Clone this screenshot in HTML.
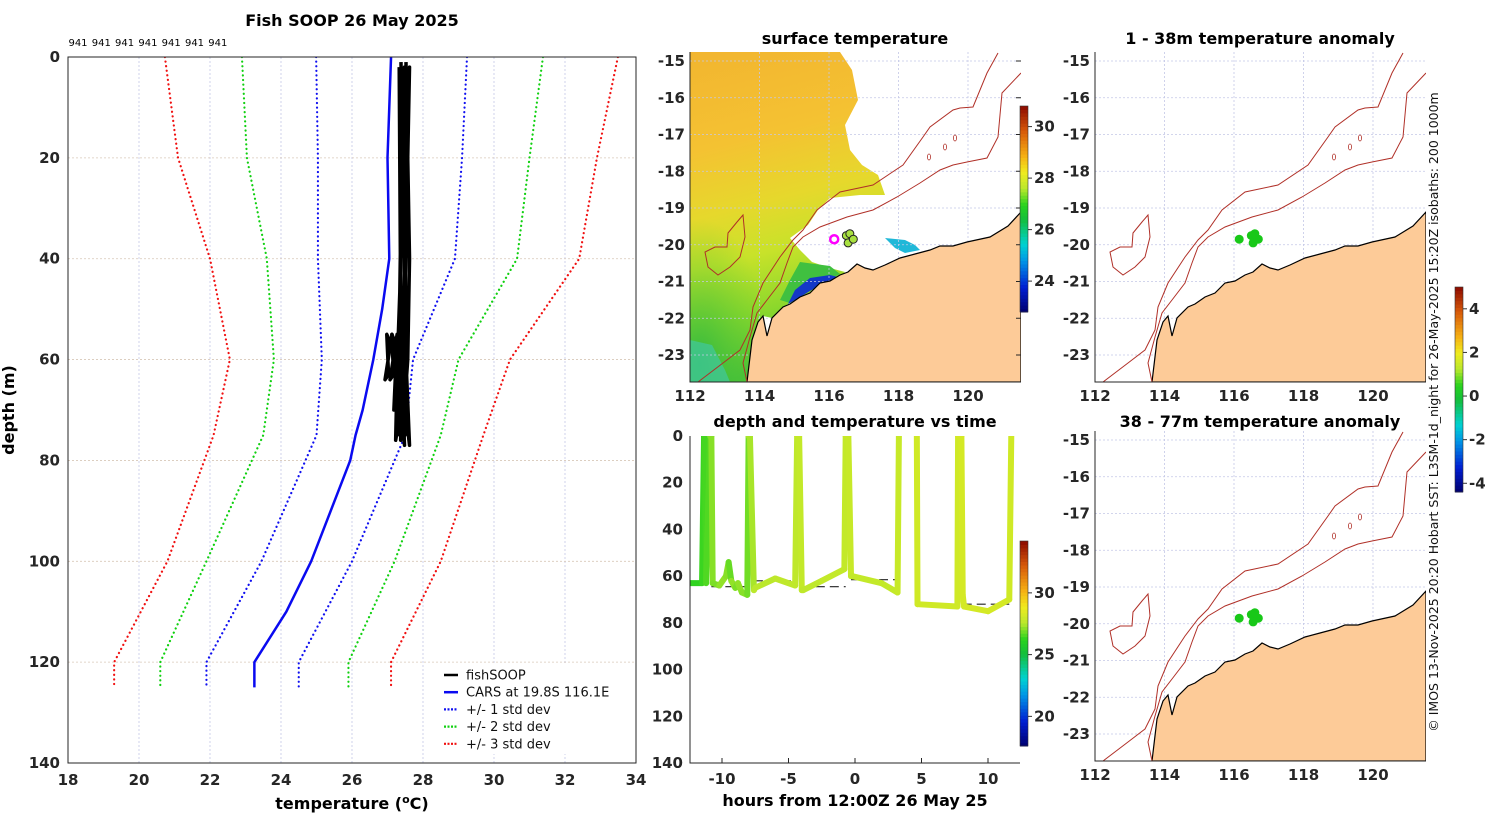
<!DOCTYPE html>
<html><head><meta charset="utf-8"><style>
html,body{margin:0;padding:0;background:#fff;}
svg{display:block;font-family:"DejaVu Sans","Liberation Sans",sans-serif;}
.tk{font-size:15px;font-weight:bold;fill:#262626;}
.ttl{font-size:16px;font-weight:bold;fill:#000;}
</style></head><body>
<svg id="s" width="1500" height="820" viewBox="0 0 1500 820" xmlns="http://www.w3.org/2000/svg">
<defs>
<clipPath id="cpL"><rect x="68" y="57" width="568" height="706"/></clipPath>
<clipPath id="cpM"><rect x="690" y="52" width="331" height="330"/></clipPath>
<clipPath id="cpT"><rect x="690" y="436" width="330" height="327"/></clipPath>
<linearGradient id="sstg" x1="0" y1="0" x2="0.15" y2="1">
<stop offset="0" stop-color="#f2b530"/><stop offset="0.3" stop-color="#f4c232"/>
<stop offset="0.5" stop-color="#e6d82c"/><stop offset="0.65" stop-color="#c8e22a"/>
<stop offset="0.82" stop-color="#8cd82c"/><stop offset="1" stop-color="#48c038"/>
</linearGradient>
<radialGradient id="greeng" cx="0.1" cy="0.9" r="0.8">
<stop offset="0" stop-color="#30b840" stop-opacity="0.9"/><stop offset="1" stop-color="#60cc30" stop-opacity="0"/>
</radialGradient>
</defs>
<rect width="1500" height="820" fill="#fff"/>
<g id="left"></g>
<g id="mapS"></g>
<g id="ts"></g>
<g id="mapA"></g>
<g id="mapB"></g>
<text class="ttl" x="352" y="26" text-anchor="middle">Fish SOOP 26 May 2025</text>
<text class="ttl" x="855" y="44" text-anchor="middle">surface temperature</text>
<text class="ttl" x="855" y="427" text-anchor="middle">depth and temperature vs time</text>
<text class="ttl" x="1260" y="44" text-anchor="middle">1 - 38m temperature anomaly</text>
<text class="ttl" x="1260" y="427" text-anchor="middle">38 - 77m temperature anomaly</text>
<text class="ttl" x="14" y="410" text-anchor="middle" transform="rotate(-90 14 410)">depth (m)</text>
<text class="ttl" x="352" y="809" text-anchor="middle">temperature (<tspan font-size="11" dy="-6">o</tspan><tspan dy="6">C)</tspan></text>
<text class="ttl" x="855" y="806" text-anchor="middle">hours from 12:00Z 26 May 25</text>
<text x="1438" y="412" font-size="12.5" fill="#111" text-anchor="middle" transform="rotate(-90 1438 412)">© IMOS 13-Nov-2025 20:20 Hobart SST: L3SM-1d_night for 26-May-2025 15:20Z isobaths: 200  1000m</text>
</svg>
<script>
// ---------- data ----------
const xTicksT=[18,20,22,24,26,28,30,32,34];
const yTicksD=[0,20,40,60,80,100,120,140];
const carsDepth=[0,20,40,50,60,70,75,80,100,110,120,125];
const carsMean=[27.1,27.0,27.05,26.85,26.6,26.3,26.1,25.95,24.85,24.15,23.25,23.25];
const bandDepth=[0,20,40,60,75,100,120,125];
const sd1Lo=[24.99,25.04,25.04,25.15,25.0,23.45,21.9,21.9];
const sd1Hi=[29.24,29.1,28.9,27.72,27.5,26.0,24.5,24.5];
const sd2Lo=[22.9,23.04,23.6,23.8,23.5,21.9,20.6,20.6];
const sd2Hi=[31.38,31.0,30.65,29.0,28.5,27.2,25.9,25.9];
const sd3Lo=[20.73,21.1,22.0,22.56,22.1,20.8,19.3,19.3];
const sd3Hi=[33.49,32.9,32.4,30.45,29.7,28.5,27.1,27.1];
const fishTemp=[27.45,27.5,27.55,27.5,27.4,27.35,27.3,27.35,27.45,27.5,27.55,27.45,27.4,27.45,27.5,27.42,27.38,27.05,27.1,27.0,27.2,27.3,27.25,27.35,27.3,27.4,27.5,27.55,27.45,27.4];
const fishDepth=[1,20,40,60,70,74,76,60,40,20,2,30,55,68,72,75,60,55,63,64,55,62,70,56,66,70,74,77,60,2];
const countLabels=["941","941","941","941","941","941","941"];
const hours=[-12.4,-11.5,-11.35,-11.3,-11.2,-10.9,-10.8,-10.7,-10.2,-9.7,-9.5,-9.3,-9.0,-8.8,-8.5,-8.1,-8.0,-7.9,-7.6,-7.5,-6.0,-4.5,-4.35,-4.2,-4.0,-3.9,-2.5,-0.8,-0.7,-0.5,-0.3,-0.2,2.0,3.2,3.3,4.65,4.7,7.7,7.75,8.0,8.1,8.2,10.0,11.6,11.75];
const tsDepth=[63,63,0,0,63,0,0,63,64,60,54,62,65,63,67,68,0,0,66,65,61,64,0,0,66,66,62,57,0,0,60,60,63,67,0,0,72,73,0,0,68,73,75,70,0];
const tsTemp=[26.3,26.4,26.3,26.5,26.6,27.0,27.1,27.0,27.2,27.1,26.8,27.2,27.0,27.2,27.1,26.9,27.4,27.4,27.6,27.6,27.7,27.7,27.8,27.8,27.7,27.7,27.8,27.8,27.9,27.9,27.8,27.8,27.8,27.9,27.9,28.1,28.1,28.1,28.2,28.2,28.2,28.2,28.2,28.1,28.1];
const hourTicks=[-10,-5,0,5,10];
const tsDepthTicks=[0,20,40,60,80,100,120,140];
const bottomH=[[-10.8,-8.0],[-7.6,-4.35],[-4.0,-0.7],[-0.3,3.3],[4.65,7.75],[8.1,11.6]];
const bottomD=[64.5,62,64.5,61.5,72,72];
const lonTicks=[112,114,116,118,120];
const latTicks=[-15,-16,-17,-18,-19,-20,-21,-22,-23];
const sstCbTicks=[24,26,28,30];
const tsCbTicks=[20,25,30];
const anomCbTicks=[-4,-2,0,2,4];
const obsLon=[116.15,116.5,116.6,116.55,116.7];
const obsLat=[-19.85,-19.75,-19.7,-19.95,-19.85];

const NS="http://www.w3.org/2000/svg";
function mk(tag,a,p){const e=document.createElementNS(NS,tag);for(const k in a)e.setAttribute(k,a[k]);p.appendChild(e);return e;}
const cmStops=[[0,[0,0,110]],[0.12,[0,30,210]],[0.25,[0,150,230]],[0.33,[0,210,210]],[0.45,[20,190,60]],[0.52,[40,210,30]],[0.6,[185,232,44]],[0.68,[240,235,30]],[0.76,[245,175,20]],[0.88,[215,90,10]],[1,[140,10,0]]];
function jet(f){f=Math.max(0,Math.min(1,f));for(let i=1;i<cmStops.length;i++){if(f<=cmStops[i][0]){const a=cmStops[i-1],b=cmStops[i],u=(f-a[0])/(b[0]-a[0]);const c=a[1].map((v,k)=>Math.round(v+(b[1][k]-v)*u));return `rgb(${c[0]},${c[1]},${c[2]})`;}}return 'rgb(140,10,0)';}

// ---------- left profile panel ----------
const L=document.getElementById('left');
const xT=t=>68+(t-18)*35.5, yD=d=>57+d*5.043;
xTicksT.forEach(t=>{let g=mk('line',{x1:xT(t),x2:xT(t),y1:57,y2:763,stroke:'#c4c8e6','stroke-width':0.8,'stroke-dasharray':'2,2'},L);

let tx=mk('text',{x:xT(t),y:785,'text-anchor':'middle',class:'tk'},L);tx.textContent=t;
});
yTicksD.forEach(d=>{let g=mk('line',{x1:68,x2:636,y1:yD(d),y2:yD(d),stroke:'#d8c8b8','stroke-width':0.8,'stroke-dasharray':'2,2'},L);

let tx=mk('text',{x:60,y:yD(d)+5,'text-anchor':'end',class:'tk'},L);tx.textContent=d;
});
countLabels.forEach((c,i)=>{let tx=mk('text',{x:78+i*23.3,y:46,'text-anchor':'middle','font-size':10,fill:'#000'},L);tx.textContent=c;
});
const PL=mk('g',{'clip-path':'url(#cpL)'},L);


function prof(ts,ds,col,w,dash,name,off){off=off||0;const pts=ts.map((t,i)=>(xT(t)+off)+','+yD(ds[i])).join(' ');
const e=mk('polyline',{points:pts,fill:'none',stroke:col,'stroke-width':w,'stroke-linejoin':'round','stroke-linecap':dash?'round':'butt'},PL);
if(dash)e.setAttribute('stroke-dasharray','0.1,4.5');

}
prof(sd3Lo,bandDepth,'#f01010',2.2,true,'std3-lower-line');prof(sd3Hi,bandDepth,'#f01010',2.2,true,'std3-upper-line');
prof(sd2Lo,bandDepth,'#10d010',2.2,true,'std2-lower-line');prof(sd2Hi,bandDepth,'#10d010',2.2,true,'std2-upper-line');
prof(sd1Lo,bandDepth,'#1010f0',2.2,true,'std1-lower-line');prof(sd1Hi,bandDepth,'#1010f0',2.2,true,'std1-upper-line');
prof(carsMean,carsDepth,'#0a0af0',2.5,false,'cars-mean-line');
prof(fishTemp,fishDepth,'#000',3.5,false,'fishsoop-line',-2.5);
prof(fishTemp,fishDepth,'#000',3.5,false,'fishsoop-line',2.5);
let bx=mk('rect',{x:68,y:57,width:568,height:706,fill:'none',stroke:'#262626','stroke-width':1},L);

// legend
const LG=mk('g',{},L);


mk('rect',{x:437,y:664,width:160,height:90,fill:'#fff'},LG);
const leg=[['fishSOOP','#000',false],['CARS at 19.8S 116.1E','#0a0af0',false],['+/- 1 std dev','#1010f0',true],['+/- 2 std dev','#10d010',true],['+/- 3 std dev','#f01010',true]];
leg.forEach((l,i)=>{const y=675+i*17.2;
let ln=mk('line',{x1:444,x2:458,y1:y,y2:y,stroke:l[1],'stroke-width':l[2]?2.2:2.5},LG);
if(l[2]){ln.setAttribute('stroke-dasharray','2,1.5');}

let t=mk('text',{x:466,y:y+4.5,'font-size':13,fill:'#111'},LG);t.textContent=l[0];
});

// ---------- maps ----------
const lonX=lon=>690+(lon-112)*34.75, latY=lat=>61+(-15-lat)*36.75;
const land="747,382 752,340 758,322 763,316 767,336 772,318 783,307 790,304 800,297 810,293 820,283 830,281 840,275 848,272 857,264 865,268 873,270 885,265 900,258 915,254 930,250 940,246 953,246 967,242 990,237 1008,226 1021,212 1021,382";
const iso1="998,53 987,73 973,107 960,108 953,110 930,127 923,137 903,165 873,185 840,192 817,210 803,230 793,240 780,257 763,283 753,307 750,330 740,350 723,363 698,382";
const iso2="1021,73 1002,93 998,137 987,158 967,162 953,165 940,170 920,183 897,197 873,210 847,217 820,227 803,237 793,247 787,263 780,283 767,300 757,313 750,337 743,363 747,382";
const island="743,215 737,222 728,233 727,247 715,247 705,252 708,267 718,275 730,267 740,257 745,237 743,215";
function drawMap(gid,dx,dy,sst){
 const G=document.getElementById(gid);
 const T=mk('g',{transform:`translate(${dx},${dy})`},G);
 
 const C=mk('g',{'clip-path':'url(#cpM)'},T);
 
 if(sst){
  let p=mk('polygon',{points:"690,52 840,52 852,70 858,100 845,125 850,150 862,165 878,175 885,195 860,195 830,198 818,210 808,225 790,238 800,250 812,262 830,268 845,272 830,285 800,297 783,307 772,318 763,316 752,340 747,382 690,382",fill:'url(#sstg)'},C);
  
  let p2=mk('rect',{x:690,y:200,width:90,height:182,fill:'url(#greeng)'},C);
  
  let p3=mk('polygon',{points:"690,340 712,345 725,370 730,382 690,382",fill:'#40c8a0',opacity:0.7},C);
  
  let p6=mk('polygon',{points:"800,262 830,266 840,274 820,284 800,297 790,303 780,300 790,280",fill:'#40c040'},C);
  
  let p4=mk('polygon',{points:"810,278 830,275 838,277 820,285 800,297 788,304 795,290",fill:'#1438c8'},C);
  
  let p5=mk('polygon',{points:"885,238 905,240 915,245 920,250 905,253 895,248",fill:'#20b8d8'},C);
  
 }
 lonTicks.forEach(l=>{let g=mk('line',{x1:lonX(l),x2:lonX(l),y1:52,y2:382,stroke:'#c4c8e6','stroke-width':0.8,'stroke-dasharray':'2,2'},C);
 });
 latTicks.forEach(l=>{let g=mk('line',{x1:690,x2:1021,y1:latY(l),y2:latY(l),stroke:'#c4c8e6','stroke-width':0.8,'stroke-dasharray':'2,2'},C);
 });
 let ld=mk('polygon',{points:land,fill:'#fdcb98',stroke:'#000','stroke-width':1.2},C);
 
 [iso1,iso2].forEach((s,i)=>{let e=mk('polyline',{points:s,fill:'none',stroke:'#b03028','stroke-width':1},C);
 });
 let is=mk('polygon',{points:island,fill:'none',stroke:'#b03028','stroke-width':1},C);
 
 [[929,157],[945,147],[955,138]].forEach(q=>{let e=mk('ellipse',{cx:q[0],cy:q[1],rx:1.6,ry:3,fill:'none',stroke:'#b03028','stroke-width':0.8},C);
 });
 obsLon.forEach((lo,i)=>{let e;
  if(sst){e=mk('circle',{cx:lonX(lo),cy:latY(obsLat[i]),r:4,fill:i==0?'none':'#a8e040',stroke:i==0?'#ff00ff':'#222','stroke-width':i==0?2.5:1},C);}
  else{e=mk('circle',{cx:lonX(lo),cy:latY(obsLat[i]),r:4.5,fill:'#18c818'},C);}
  });
 let b=mk('path',{d:'M690,52 V382 H1021',fill:'none',stroke:'#262626','stroke-width':1},T);
 
 lonTicks.forEach(l=>{let t=mk('text',{x:lonX(l),y:401,'text-anchor':'middle',class:'tk'},T);t.textContent=l;
 });
 latTicks.forEach(l=>{let t=mk('text',{x:685,y:latY(l)+5,'text-anchor':'end',class:'tk'},T);t.textContent=l;
 
 if(sst){let k=mk('line',{x1:1021,x2:1016,y1:latY(l),y2:latY(l),stroke:'#262626'},T);}});
}
drawMap('mapS',0,0,true);
drawMap('mapA',405,0,false);
drawMap('mapB',405,379,false);

function colorbar(gid,x,y0,y1,vmin,vmax,ticks,name){
 const G=document.getElementById(gid);const n=60,h=(y1-y0)/n;
 const cb=mk('g',{},G);
 for(let i=0;i<n;i++){mk('rect',{x:x,y:y1-(i+1)*h,width:8,height:h+0.5,fill:jet((i+0.5)/n)},cb);}
 mk('rect',{x:x,y:y0,width:8,height:y1-y0,fill:'none',stroke:'#333','stroke-width':0.6},cb);
 ticks.forEach(t=>{const y=y1-(t-vmin)/(vmax-vmin)*(y1-y0);
 mk('line',{x1:x+8,x2:x+12,y1:y,y2:y,stroke:'#333'},cb);
 let tx=mk('text',{x:x+14,y:y+5,class:'tk','font-size':13},cb);tx.textContent=t;
 });
}
colorbar('mapS',1020,106,312,22.8,30.8,sstCbTicks,'sst-colorbar');
colorbar('ts',1020,541,746,17.6,34.2,tsCbTicks,'time-colorbar');
colorbar('mapB',1455,287,492,-4.4,5.0,anomCbTicks,'anomaly-colorbar');

// ---------- depth vs time panel ----------
const TS=document.getElementById('ts');
const hX=h=>855+h*13.3, tY=d=>436+d*2.336;
const TC=mk('g',{'clip-path':'url(#cpT)'},TS);


bottomH.forEach((hh,i)=>{let e=mk('line',{x1:hX(hh[0]),x2:hX(hh[1]),y1:tY(bottomD[i]),y2:tY(bottomD[i]),stroke:'#222','stroke-width':1.2,'stroke-dasharray':'9,5'},TC);
});
for(let i=0;i<hours.length-1;i++){
 if(hours[i+1]-hours[i]>1.2&&tsDepth[i]==0)continue;
 let e=mk('line',{x1:hX(hours[i]),y1:tY(tsDepth[i]),x2:hX(hours[i+1]),y2:tY(tsDepth[i+1]),stroke:jet((tsTemp[i]-17.6)/(34.2-17.6)),'stroke-width':6,'stroke-linecap':'round'},TC);
 }
let ta=mk('path',{d:'M690,436 V763 H1020',fill:'none',stroke:'#262626','stroke-width':1},TS);

hourTicks.forEach(h=>{let t=mk('text',{x:hX(h),y:784,'text-anchor':'middle',class:'tk'},TS);t.textContent=h;

let k=mk('line',{x1:hX(h),x2:hX(h),y1:763,y2:758,stroke:'#262626'},TS);});
tsDepthTicks.forEach(d=>{let t=mk('text',{x:683,y:tY(d)+5,'text-anchor':'end',class:'tk'},TS);t.textContent=d;
});
</script>
</body></html>
